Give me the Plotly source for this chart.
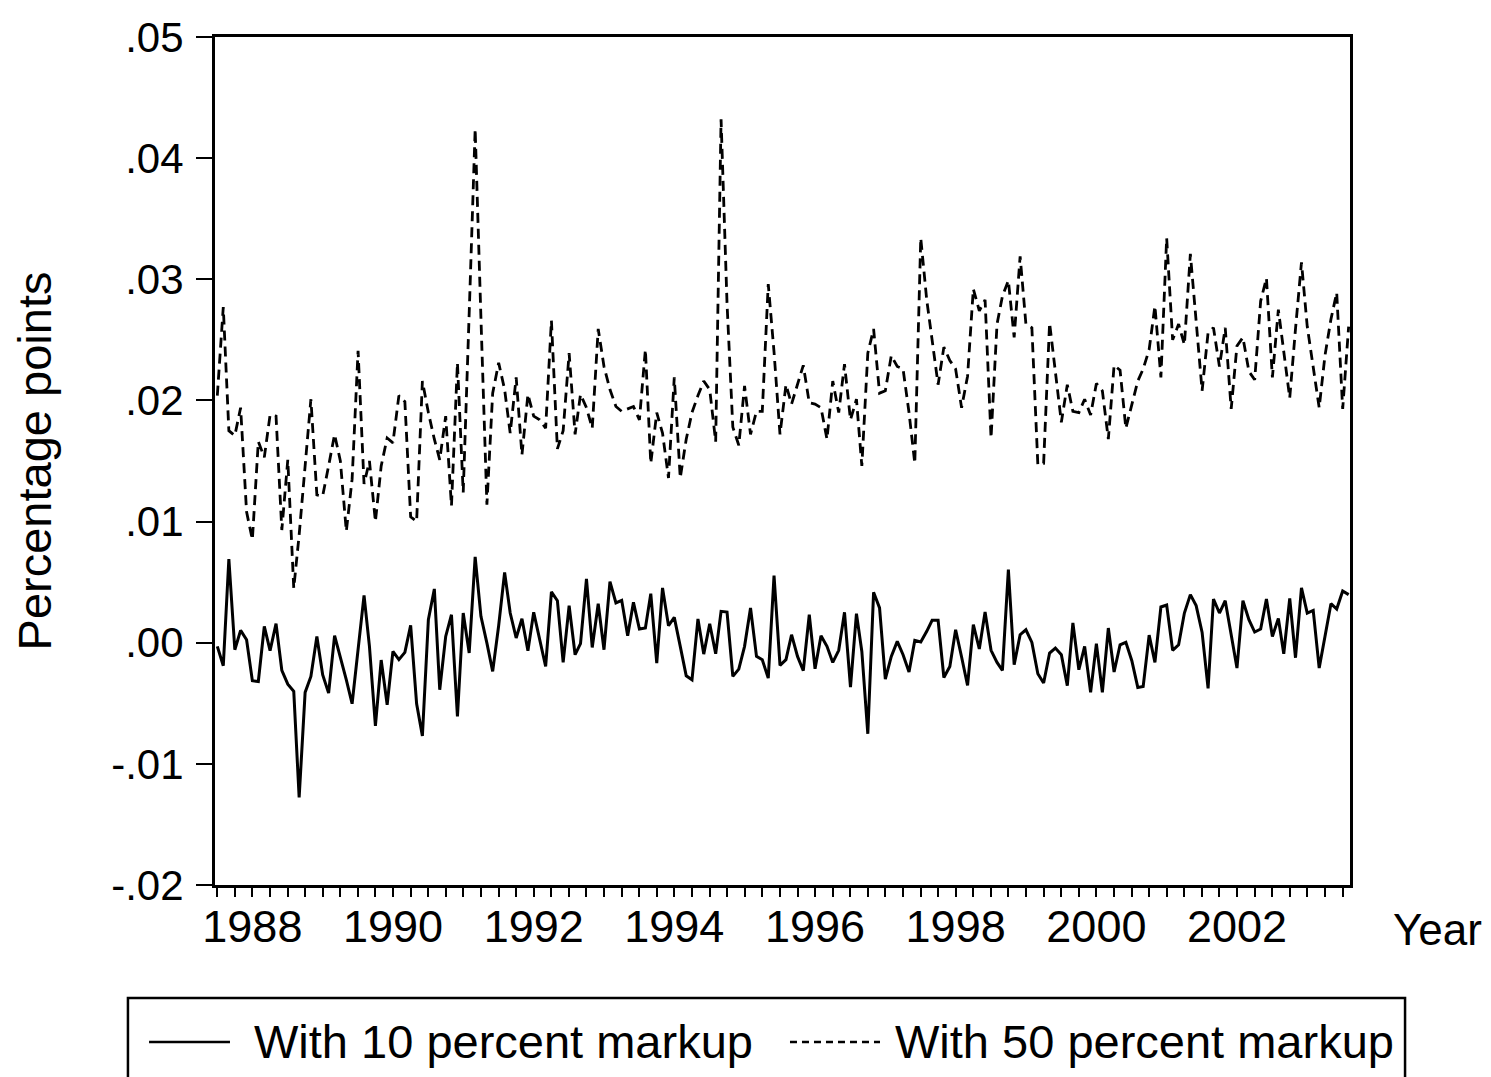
import pandas as pd
import plotly.graph_objects as go

# Monthly observations, 1988M01 onward
dates = pd.date_range("1988-01-01", periods=194, freq="MS")

markup_10 = [
    -0.00030, -0.00190, 0.00691, -0.00058, 0.00102, 0.00025, -0.00314, -0.00320, 0.00135, -0.00066,
    0.00157, -0.00229, -0.00342, -0.00402, -0.01278, -0.00410, -0.00278, 0.00052, -0.00264, -0.00416,
    0.00058, -0.00113, -0.00306, -0.00504, -0.00058, 0.00391, -0.00030, -0.00686, -0.00143, -0.00512,
    -0.00072, -0.00140, -0.00080, 0.00143, -0.00504, -0.00769, 0.00190, 0.00444, -0.00388, 0.00052,
    0.00231, -0.00609, 0.00245, -0.00085, 0.00708, 0.00218, -0.00003, -0.00237, 0.00140, 0.00581,
    0.00245, 0.00039, 0.00198, -0.00066, 0.00251, 0.00025, -0.00196, 0.00419, 0.00347, -0.00163,
    0.00306, -0.00099, -0.00008, 0.00526, -0.00039, 0.00322, -0.00058, 0.00504, 0.00328, 0.00350,
    0.00058, 0.00333, 0.00113, 0.00121, 0.00405, -0.00168, 0.00452, 0.00140, 0.00209, -0.00030,
    -0.00273, -0.00306, 0.00196, -0.00094, 0.00157, -0.00091, 0.00259, 0.00253, -0.00278, -0.00218,
    -0.00030, 0.00287, -0.00113, -0.00140, -0.00292, 0.00554, -0.00187, -0.00140, 0.00066, -0.00113,
    -0.00231, 0.00231, -0.00215, 0.00058, -0.00030, -0.00163, -0.00063, 0.00251, -0.00366, 0.00240,
    -0.00072, -0.00752, 0.00416, 0.00287, -0.00300, -0.00113, 0.00011, -0.00099, -0.00242, 0.00019,
    0.00006, 0.00094, 0.00185, 0.00185, -0.00287, -0.00196, 0.00107, -0.00118, -0.00353, 0.00149,
    -0.00052, 0.00253, -0.00063, -0.00163, -0.00229, 0.00603, -0.00182, 0.00066, 0.00107, 0.00003,
    -0.00256, -0.00333, -0.00085, -0.00044, -0.00099, -0.00355, 0.00163, -0.00223, -0.00030, -0.00410,
    -0.00008, -0.00410, 0.00121, -0.00242, -0.00017, 0.00003, -0.00149, -0.00369, -0.00361, 0.00063,
    -0.00163, 0.00295, 0.00311, -0.00063, -0.00017, 0.00245, 0.00397, 0.00306, 0.00085, -0.00377,
    0.00361, 0.00245, 0.00347, 0.00066, -0.00209, 0.00347, 0.00190, 0.00088, 0.00113, 0.00361,
    0.00052, 0.00201, -0.00091, 0.00366, -0.00124, 0.00452, 0.00245, 0.00267, -0.00209, 0.00052,
    0.00322, 0.00278, 0.00427, 0.00397,
]

markup_50 = [
    0.0204, 0.0277, 0.0175, 0.0171, 0.0194, 0.0108, 0.0085, 0.0166, 0.0153, 0.0188,
    0.0187, 0.0093, 0.0151, 0.0045, 0.0089, 0.0146, 0.0201, 0.0122, 0.0121, 0.0146,
    0.0172, 0.0150, 0.0092, 0.0135, 0.0241, 0.0131, 0.0150, 0.0100, 0.0146, 0.0169,
    0.0165, 0.0204, 0.0199, 0.0104, 0.0100, 0.0216, 0.0190, 0.0168, 0.0151, 0.0187,
    0.0113, 0.0231, 0.0124, 0.0272, 0.0424, 0.0268, 0.0114, 0.0206, 0.0231, 0.0209,
    0.0173, 0.0219, 0.0155, 0.0205, 0.0187, 0.0184, 0.0177, 0.0266, 0.0160, 0.0175,
    0.0239, 0.0172, 0.0205, 0.0194, 0.0177, 0.0259, 0.0228, 0.0209, 0.0195, 0.0191,
    0.0193, 0.0195, 0.0184, 0.0242, 0.0148, 0.0190, 0.0173, 0.0136, 0.0219, 0.0136,
    0.0168, 0.0190, 0.0204, 0.0216, 0.0209, 0.0166, 0.0432, 0.0280, 0.0178, 0.0163,
    0.0212, 0.0172, 0.0191, 0.0191, 0.0296, 0.0240, 0.0172, 0.0213, 0.0197, 0.0213,
    0.0229, 0.0198, 0.0197, 0.0194, 0.0168, 0.0216, 0.0190, 0.0230, 0.0184, 0.0201,
    0.0146, 0.0239, 0.0259, 0.0206, 0.0208, 0.0237, 0.0228, 0.0226, 0.0190, 0.0148,
    0.0334, 0.0283, 0.0250, 0.0213, 0.0244, 0.0233, 0.0226, 0.0194, 0.0220, 0.0292,
    0.0274, 0.0283, 0.0169, 0.0263, 0.0286, 0.0299, 0.0252, 0.0319, 0.0263, 0.0260,
    0.0147, 0.0148, 0.0264, 0.0221, 0.0182, 0.0213, 0.0191, 0.0190, 0.0201, 0.0188,
    0.0214, 0.0208, 0.0168, 0.0229, 0.0225, 0.0177, 0.0197, 0.0216, 0.0226, 0.0242,
    0.0278, 0.0219, 0.0334, 0.0250, 0.0263, 0.0246, 0.0321, 0.0264, 0.0208, 0.0256,
    0.0260, 0.0228, 0.0260, 0.0193, 0.0245, 0.0252, 0.0224, 0.0217, 0.0282, 0.0301,
    0.0219, 0.0275, 0.0239, 0.0202, 0.0259, 0.0314, 0.0261, 0.0227, 0.0194, 0.0237,
    0.0267, 0.0289, 0.0193, 0.0261,
]

series_names = ["With 10 percent markup", "With 50 percent markup"]
y_tick_vals = [-0.02, -0.01, 0.00, 0.01, 0.02, 0.03, 0.04, 0.05]
y_tick_text = ["-.02", "-.01", ".00", ".01", ".02", ".03", ".04", ".05"]
year_ticks = [f"{y}-01-01" for y in range(1988, 2005)]
label_years = list(range(1988, 2004, 2))
label_pos = [f"{y}-07-01" for y in label_years]
label_text = [str(y) for y in label_years]

FONT = "Liberation Sans, Arial, sans-serif"
x_range = ["1987-12-20", "2004-02-08"]
DASH_MAIN = "10px,6px"
DASH_KEY = "7px,5px"

fig = go.Figure()
fig.add_trace(go.Scatter(
    x=dates, y=markup_10, mode="lines", name=series_names[0],
    line=dict(color="black", width=3),
))
fig.add_trace(go.Scatter(
    x=dates, y=markup_50, mode="lines", name=series_names[1],
    line=dict(color="black", width=2.8, dash=DASH_MAIN),
))

# Legend box drawn in paper coordinates (below the plot, as in the original)
legend_shapes = [
    dict(type="rect", xref="paper", yref="paper", x0=-0.0767, x1=1.0485, y0=-0.2400, y1=-0.1333,
         line=dict(color="black", width=2.5), fillcolor="rgba(0,0,0,0)", layer="above"),
    dict(type="line", xref="paper", yref="paper", x0=-0.0581, x1=0.0132, y0=-0.1851, y1=-0.1851,
         line=dict(color="black", width=2.5)),
    dict(type="line", xref="paper", yref="paper", x0=0.5066, x1=0.5859, y0=-0.1851, y1=-0.1851,
         line=dict(color="black", width=2.5, dash=DASH_KEY)),
]
legend_texts = [
    dict(text=series_names[0], xref="paper", yref="paper", x=0.0326, y=-0.1851,
         xanchor="left", yanchor="middle", showarrow=False, font=dict(size=47)),
    dict(text=series_names[1], xref="paper", yref="paper", x=0.5974, y=-0.1851,
         xanchor="left", yanchor="middle", showarrow=False, font=dict(size=47)),
]

# The page body adds an 8px offset, so the figure is 8px smaller and margins shifted.
fig.update_layout(
    width=1483, height=1069,
    margin=dict(l=207, r=141, t=29, b=192),
    paper_bgcolor="white", plot_bgcolor="white",
    font=dict(family=FONT, size=42, color="black"),
    showlegend=False,
    xaxis=dict(
        type="date", range=x_range,
        tickmode="array", tickvals=label_pos, ticktext=label_text, ticks="",
        tickfont=dict(size=45),
        minor=dict(ticks="outside", ticklen=9, tickwidth=2, tickcolor="black",
                   dtick="M3", tick0="1988-01-01", showgrid=False),
        showline=True, linecolor="black", linewidth=3, mirror=True,
        showgrid=False, zeroline=False, automargin=False,
    ),
    xaxis2=dict(
        type="date", range=x_range, overlaying="x", anchor="y", side="bottom",
        tickmode="array", tickvals=year_ticks, showticklabels=False,
        ticks="outside", ticklen=18, tickwidth=2, tickcolor="black",
        showline=False, showgrid=False, zeroline=False,
    ),
    yaxis=dict(
        range=[-0.02, 0.05], tickmode="array", tickvals=y_tick_vals, ticktext=y_tick_text,
        ticks="outside", ticklen=16, tickwidth=2, tickcolor="black",
        ticklabelstandoff=4,
        showline=True, linecolor="black", linewidth=3, mirror=True,
        showgrid=False, zeroline=False, automargin=False,
        title=dict(text="Percentage points", font=dict(size=47), standoff=50),
    ),
    shapes=legend_shapes,
    annotations=legend_texts + [dict(
        text="Year", xref="paper", yref="paper", x=1.0767, y=-0.053,
        xanchor="center", yanchor="middle", showarrow=False, font=dict(size=44),
    )],
)

fig.write_html("out.html")
